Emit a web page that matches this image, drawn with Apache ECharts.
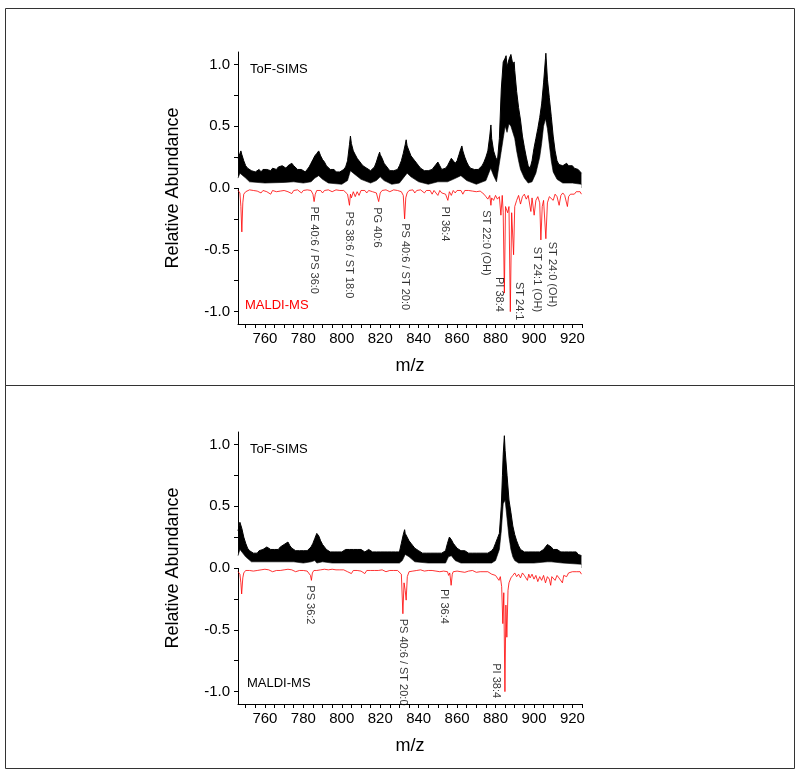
<!DOCTYPE html>
<html>
<head>
<meta charset="utf-8">
<script src="https://cdn.jsdelivr.net/npm/echarts@6/dist/echarts.min.js"></script>
<style>html,body{margin:0;padding:0;background:#fff}#c{width:800px;height:775px}</style>
</head>
<body>
<div id="c"></div>
<script>
// ---------- DATA ----------
const xTickValues = [750,755,760,765,770,775,780,785,790,795,800,805,810,815,820,825,830,835,840,845,850,855,860,865,870,875,880,885,890,895,900,905,910,915,920,925];
const xLabelValues = [760,780,800,820,840,860,880,900,920];
const yTickValues = [-1,-0.75,-0.5,-0.25,0,0.25,0.5,0.75,1];
const yLabelValues = [-1,-0.5,0,0.5,1];

// Panel 1 ToF-SIMS band: upper and lower envelope
const tofUpper1 = [[746,0.24],[747,0.28],[747.5,0.30],[748,0.27],[749,0.22],[750,0.18],[751,0.16],[752,0.15],[753,0.14],[754,0.15],[755,0.13],[756,0.14],[757,0.15],[758,0.13],[759,0.15],[760,0.14],[761,0.15],[762,0.16],[763,0.14],[764,0.16],[765,0.17],[766,0.15],[767,0.17],[768,0.16],[769,0.18],[770,0.17],[771,0.16],[772,0.18],[773,0.19],[774,0.20],[775,0.18],[776,0.17],[777,0.15],[778,0.14],[779,0.15],[780,0.14],[781,0.13],[782,0.15],[783,0.17],[784,0.20],[785,0.23],[786,0.26],[787,0.28],[788,0.30],[789,0.26],[790,0.23],[791,0.21],[792,0.18],[793,0.17],[794,0.15],[795,0.14],[796,0.15],[797,0.13],[798,0.14],[799,0.13],[800,0.14],[801,0.15],[802,0.17],[803,0.22],[804,0.35],[804.5,0.42],[805,0.36],[806,0.30],[807,0.27],[808,0.24],[809,0.22],[810,0.20],[811,0.18],[812,0.17],[813,0.16],[814,0.15],[815,0.14],[816,0.15],[817,0.17],[818,0.21],[819,0.26],[819.7,0.29],[820,0.27],[821,0.24],[822,0.20],[823,0.18],[824,0.16],[825,0.14],[826,0.13],[827,0.14],[828,0.13],[829,0.15],[830,0.18],[831,0.22],[832,0.28],[833,0.35],[833.5,0.39],[834,0.34],[835,0.30],[836,0.26],[837,0.24],[838,0.22],[839,0.20],[840,0.18],[841,0.16],[842,0.15],[843,0.14],[844,0.13],[845,0.14],[846,0.13],[847,0.15],[848,0.17],[849,0.19],[850,0.21],[851,0.18],[852,0.15],[853,0.14],[854,0.16],[855,0.18],[856,0.21],[857,0.24],[858,0.22],[859,0.20],[860,0.22],[861,0.27],[862,0.32],[862.5,0.34],[863,0.30],[864,0.25],[865,0.21],[866,0.18],[867,0.16],[868,0.15],[869,0.15],[870,0.14],[871,0.15],[872,0.16],[873,0.18],[874,0.21],[875,0.25],[876,0.30],[877,0.42],[877.6,0.51],[878,0.40],[879,0.30],[880,0.25],[881,0.22],[882,0.40],[883,0.80],[884,1.02],[885,1.05],[885.5,1.07],[886,0.98],[887,1.04],[888,1.08],[889,1.00],[889.7,1.02],[890,0.95],[891,0.78],[892,0.65],[893,0.55],[894,0.42],[895,0.33],[896,0.25],[897,0.18],[898,0.16],[899,0.22],[900,0.32],[901,0.40],[902,0.48],[903,0.57],[904,0.68],[905,0.85],[906,1.05],[906.2,1.09],[907,0.88],[908,0.73],[909,0.58],[910,0.42],[911,0.30],[912,0.22],[913,0.19],[914,0.20],[915,0.18],[916,0.19],[917,0.20],[918,0.18],[919,0.17],[920,0.18],[921,0.16],[922,0.17],[923,0.15],[924,0.14],[924.7,0.12]];
const tofLower1 = [[746,0.08],[747,0.12],[748,0.13],[750,0.08],[752,0.05],[760,0.04],[770,0.045],[775,0.05],[780,0.04],[784,0.05],[786,0.08],[788,0.10],[790,0.07],[793,0.04],[800,0.03],[803,0.06],[804.5,0.14],[806,0.12],[810,0.07],[815,0.04],[818,0.06],[820,0.09],[822,0.06],[826,0.03],[830,0.04],[833,0.10],[834,0.12],[836,0.09],[840,0.05],[845,0.03],[850,0.05],[855,0.05],[858,0.07],[862,0.10],[865,0.06],[870,0.03],[875,0.06],[877.5,0.16],[879,0.10],[880.5,0.05],[881.5,0.06],[883,0.30],[884,0.40],[885,0.50],[886,0.45],[887,0.52],[888,0.50],[889,0.50],[890,0.40],[891,0.30],[892,0.22],[893,0.15],[895,0.08],[897,0.04],[899,0.05],[901,0.12],[903,0.25],[904,0.36],[905,0.50],[906,0.56],[907,0.48],[908,0.35],[909,0.22],[910,0.13],[912,0.07],[915,0.04],[920,0.04],[924.7,0.03]];
// Panel 1 MALDI-MS (negative)
const maldi1 = [[746,-0.02],[747,-0.04],[747.5,-0.15],[748,-0.355],[748.5,-0.12],[749,-0.05],[750,-0.03],[751,-0.02],[752,-0.015],[753,-0.03],[754,-0.02],[755,-0.01],[756,-0.025],[757,-0.02],[758,-0.04],[759,-0.02],[760,-0.015],[761,-0.03],[762,-0.02],[763,-0.05],[764,-0.02],[765,-0.015],[766,-0.03],[767,-0.02],[768,-0.025],[769,-0.04],[770,-0.02],[771,-0.015],[772,-0.03],[773,-0.02],[774,-0.045],[775,-0.02],[776,-0.03],[777,-0.015],[778,-0.02],[779,-0.04],[780,-0.02],[781,-0.025],[782,-0.015],[783,-0.03],[784,-0.02],[785,-0.05],[785.6,-0.11],[786.2,-0.05],[787,-0.02],[788,-0.03],[789,-0.02],[790,-0.04],[791,-0.02],[792,-0.03],[793,-0.015],[794,-0.02],[795,-0.03],[796,-0.02],[797,-0.015],[798,-0.03],[799,-0.02],[800,-0.025],[801,-0.02],[802,-0.03],[803,-0.05],[804,-0.14],[804.5,-0.05],[805,-0.08],[806,-0.03],[807,-0.07],[808,-0.03],[809,-0.06],[810,-0.02],[811,-0.03],[812,-0.02],[813,-0.04],[814,-0.02],[815,-0.015],[816,-0.03],[817,-0.02],[818,-0.04],[819.2,-0.11],[820,-0.04],[821,-0.02],[822,-0.03],[823,-0.015],[824,-0.02],[825,-0.03],[826,-0.02],[827,-0.015],[828,-0.03],[829,-0.02],[830,-0.025],[831,-0.03],[832,-0.06],[832.7,-0.25],[833.3,-0.08],[834,-0.04],[835,-0.02],[836,-0.03],[837,-0.015],[838,-0.04],[839,-0.02],[840,-0.03],[841,-0.015],[842,-0.025],[843,-0.04],[844,-0.02],[845,-0.03],[846,-0.02],[847,-0.05],[848,-0.02],[849,-0.03],[850,-0.06],[851,-0.02],[852,-0.04],[853,-0.03],[854,-0.05],[855.2,-0.10],[856,-0.03],[857,-0.06],[858,-0.02],[859,-0.04],[860,-0.02],[861,-0.03],[862,-0.02],[863,-0.05],[864,-0.02],[865,-0.03],[866,-0.02],[867,-0.015],[868,-0.025],[869,-0.02],[870,-0.03],[871,-0.02],[872,-0.025],[873,-0.04],[874,-0.05],[875,-0.07],[876,-0.09],[877,-0.06],[877.6,-0.14],[878,-0.08],[879,-0.10],[880,-0.06],[881,-0.09],[882,-0.07],[882.8,-0.22],[883.5,-0.06],[884,-0.20],[884.6,-0.85],[885.2,-0.15],[886.3,-0.20],[887,-0.15],[887.7,-1.0],[888.4,-0.20],[889.4,-0.54],[890,-0.15],[891,-0.10],[892,-0.06],[893,-0.13],[894,-0.07],[895,-0.05],[896,-0.09],[897,-0.06],[898.4,-0.19],[899,-0.08],[900.1,-0.22],[901,-0.10],[902,-0.07],[903,-0.12],[903.6,-0.42],[904.3,-0.15],[905,-0.10],[906.2,-0.41],[907,-0.12],[908,-0.07],[909,-0.06],[910,-0.10],[911,-0.05],[912,-0.07],[913.1,-0.14],[914,-0.06],[915,-0.04],[916,-0.06],[917.4,-0.15],[918,-0.07],[919,-0.05],[920,-0.04],[921,-0.05],[922,-0.03],[923,-0.04],[924,-0.03],[924.7,-0.05]];
const labels1 = [[785.4,-0.15,'PE 40:6 / PS 36:0'],[803.6,-0.19,'PS 38:6 / ST 18:0'],[818.5,-0.155,'PG 40:6'],[833.0,-0.285,'PS 40:6 / ST 20:0'],[853.8,-0.15,'PI 36:4'],[875.0,-0.18,'ST 22:0 (OH)'],[882.0,-0.72,'PI 38:4'],[892.3,-0.76,'ST 24:1'],[901.8,-0.475,'ST 24:1 (OH)'],[909.6,-0.435,'ST 24:0 (OH)']];

// Panel 2
const tofUpper2 = [[746,0.30],[747,0.37],[748,0.32],[749,0.25],[750,0.20],[751,0.16],[752,0.14],[753,0.13],[754,0.12],[755,0.13],[756,0.12],[757,0.14],[758,0.13],[759,0.15],[760,0.16],[761,0.17],[762,0.16],[763,0.15],[764,0.14],[765,0.15],[766,0.16],[767,0.15],[768,0.17],[769,0.18],[770,0.19],[771,0.20],[772,0.21],[773,0.18],[774,0.16],[775,0.15],[776,0.14],[777,0.15],[778,0.14],[779,0.13],[780,0.14],[781,0.13],[782,0.14],[783,0.15],[784,0.17],[785,0.20],[786,0.24],[787,0.28],[787.5,0.29],[788,0.26],[789,0.22],[790,0.19],[791,0.17],[792,0.15],[793,0.14],[794,0.13],[795,0.14],[796,0.13],[797,0.12],[798,0.13],[799,0.12],[800,0.13],[801,0.14],[802,0.15],[803,0.14],[804,0.15],[805,0.14],[806,0.15],[807,0.16],[808,0.15],[809,0.14],[810,0.15],[811,0.14],[812,0.13],[813,0.14],[814,0.15],[815,0.14],[816,0.13],[817,0.14],[818,0.13],[819,0.12],[820,0.13],[821,0.14],[822,0.13],[823,0.12],[824,0.13],[825,0.12],[826,0.13],[827,0.12],[828,0.13],[829,0.12],[830,0.13],[831,0.20],[832,0.27],[832.7,0.31],[833,0.28],[834,0.25],[835,0.22],[836,0.20],[837,0.18],[838,0.16],[839,0.15],[840,0.14],[841,0.13],[842,0.12],[843,0.13],[844,0.12],[845,0.13],[846,0.12],[847,0.13],[848,0.12],[849,0.13],[850,0.12],[851,0.13],[852,0.12],[853,0.13],[854,0.14],[855,0.20],[856,0.25],[857,0.23],[858,0.20],[859,0.18],[860,0.16],[861,0.15],[862,0.14],[863,0.13],[864,0.14],[865,0.13],[866,0.12],[867,0.13],[868,0.12],[869,0.13],[870,0.12],[871,0.13],[872,0.12],[873,0.13],[874,0.12],[875,0.13],[876,0.12],[877,0.13],[878,0.14],[879,0.16],[880,0.20],[881,0.24],[882,0.28],[883,0.50],[883.6,0.75],[884,0.92],[884.6,1.07],[885,0.95],[886,0.75],[887,0.55],[888,0.45],[889,0.34],[890,0.27],[891,0.22],[892,0.18],[893,0.15],[894,0.14],[895,0.13],[896,0.14],[897,0.13],[898,0.12],[899,0.13],[900,0.14],[901,0.13],[902,0.12],[903,0.13],[904,0.14],[905,0.15],[906,0.17],[907,0.19],[908,0.20],[909,0.17],[910,0.15],[911,0.14],[912,0.15],[913,0.14],[914,0.13],[915,0.14],[916,0.13],[917,0.12],[918,0.13],[919,0.12],[920,0.13],[921,0.12],[922,0.13],[923,0.11],[924,0.12],[924.7,0.10]];
const tofLower2 = [[746,0.10],[747,0.15],[748,0.14],[750,0.09],[753,0.05],[760,0.05],[770,0.05],[775,0.05],[780,0.04],[784,0.05],[786,0.06],[787,0.04],[788,0.05],[790,0.05],[795,0.04],[800,0.04],[810,0.04],[820,0.04],[830,0.04],[831.5,0.06],[833,0.11],[835,0.09],[838,0.05],[845,0.04],[854,0.04],[855.5,0.09],[857,0.10],[859,0.06],[862,0.04],[870,0.04],[878,0.04],[880,0.06],[882,0.15],[883,0.30],[884,0.52],[885,0.55],[886,0.40],[887,0.25],[888,0.15],[889,0.09],[890,0.06],[892,0.04],[900,0.04],[907,0.05],[909,0.05],[915,0.04],[924.7,0.03]];
const maldi2 = [[746,-0.03],[747,-0.05],[747.5,-0.12],[747.9,-0.21],[748.5,-0.08],[749,-0.04],[750,-0.02],[751,-0.015],[752,-0.02],[753,-0.01],[754,-0.025],[755,-0.015],[756,-0.02],[757,-0.03],[758,-0.015],[759,-0.02],[760,-0.01],[761,-0.025],[762,-0.015],[763,-0.02],[764,-0.03],[765,-0.015],[766,-0.02],[767,-0.01],[768,-0.02],[769,-0.035],[770,-0.015],[771,-0.02],[772,-0.01],[773,-0.025],[774,-0.015],[775,-0.02],[776,-0.03],[777,-0.015],[778,-0.02],[779,-0.01],[780,-0.02],[781,-0.015],[782,-0.025],[783,-0.03],[783.7,-0.06],[784.2,-0.10],[784.7,-0.04],[785.5,-0.02],[786,-0.015],[787,-0.02],[788,-0.01],[789,-0.015],[790,-0.02],[791,-0.01],[792,-0.02],[793,-0.015],[794,-0.02],[795,-0.01],[796,-0.02],[797,-0.015],[798,-0.025],[799,-0.015],[800,-0.02],[801,-0.015],[802,-0.02],[803,-0.03],[804,-0.02],[805,-0.045],[806,-0.02],[807,-0.03],[808,-0.02],[809,-0.015],[810,-0.025],[811,-0.02],[812,-0.045],[813,-0.02],[814,-0.015],[815,-0.02],[816,-0.03],[817,-0.02],[818,-0.015],[819,-0.02],[820,-0.025],[821,-0.015],[822,-0.02],[823,-0.03],[824,-0.015],[825,-0.02],[826,-0.015],[827,-0.02],[828,-0.025],[829,-0.02],[830,-0.03],[831,-0.05],[831.8,-0.37],[832.4,-0.12],[833,-0.18],[833.5,-0.26],[834.1,-0.07],[835,-0.03],[836,-0.02],[837,-0.025],[838,-0.015],[839,-0.02],[840,-0.03],[841,-0.015],[842,-0.02],[843,-0.025],[844,-0.015],[845,-0.02],[846,-0.03],[847,-0.02],[848,-0.015],[849,-0.025],[850,-0.02],[851,-0.03],[852,-0.02],[853,-0.025],[854,-0.02],[855,-0.03],[855.6,-0.06],[856.2,-0.04],[856.9,-0.14],[857.5,-0.05],[858,-0.03],[859,-0.02],[860,-0.025],[861,-0.02],[862,-0.03],[863,-0.02],[864,-0.035],[865,-0.02],[866,-0.025],[867,-0.03],[868,-0.02],[869,-0.025],[870,-0.035],[871,-0.02],[872,-0.03],[873,-0.025],[874,-0.03],[875,-0.04],[876,-0.03],[877,-0.035],[878,-0.05],[879,-0.04],[880,-0.06],[881,-0.05],[881.8,-0.10],[882.5,-0.07],[883.2,-0.15],[883.8,-0.45],[884.3,-0.20],[884.9,-1.0],[885.4,-0.30],[885.9,-0.56],[886.5,-0.18],[887,-0.12],[888,-0.08],[889,-0.06],[890,-0.04],[891,-0.07],[892,-0.05],[893,-0.08],[894,-0.04],[895,-0.06],[896.6,-0.10],[897.3,-0.05],[898,-0.08],[899,-0.05],[900,-0.09],[901,-0.06],[902,-0.11],[903,-0.07],[904,-0.10],[905,-0.06],[906,-0.12],[907,-0.07],[908,-0.09],[908.7,-0.14],[909.3,-0.07],[910,-0.06],[911,-0.10],[912,-0.06],[913,-0.08],[914,-0.07],[914.8,-0.12],[915.5,-0.06],[916,-0.05],[917,-0.07],[918,-0.04],[919,-0.05],[920,-0.03],[921,-0.04],[922,-0.03],[923,-0.025],[924,-0.03],[924.7,-0.05]];
const labels2 = [[783.4,-0.14,'PS 36:2'],[831.8,-0.41,'PS 40:6 / ST 20:0'],[853.4,-0.17,'PI 36:4'],[880.2,-0.77,'PI 38:4']];

// ---------- CHART ----------
const FONT = "'Liberation Sans', Arial, Helvetica, sans-serif";
const chart = echarts.init(document.getElementById('c'), null, {renderer: 'canvas'});

function xAxisCfg(gi) {
  return {
    type: 'value', gridIndex: gi, min: 746, max: 925,
    name: 'm/z', nameLocation: 'middle', nameGap: 33,
    nameTextStyle: {fontFamily: FONT, fontSize: 18, color: '#000'},
    axisLine: {show: true, onZero: false, lineStyle: {color: '#000', width: 1}},
    axisTick: {show: true, length: 4, customValues: xTickValues, lineStyle: {color: '#000'}},
    axisLabel: {customValues: xLabelValues, fontFamily: FONT, fontSize: 15, color: '#000', margin: 7},
    splitLine: {show: false}
  };
}
function yAxisCfg(gi) {
  return {
    type: 'value', gridIndex: gi, min: -1.1, max: 1.1,
    name: 'Relative Abundance', nameLocation: 'middle', nameGap: 56, nameRotate: 90,
    nameTextStyle: {fontFamily: FONT, fontSize: 18, color: '#000'},
    axisLine: {show: true, onZero: false, lineStyle: {color: '#000', width: 1}},
    axisTick: {show: true, length: 4, customValues: yTickValues, lineStyle: {color: '#000'}},
    axisLabel: {customValues: yLabelValues, fontFamily: FONT, fontSize: 15, color: '#000', margin: 8,
      formatter: v => v.toFixed(1)},
    splitLine: {show: false}
  };
}
function panelSeries(gi, up, low, maldi, labels) {
  return [
    {type: 'line', xAxisIndex: gi, yAxisIndex: gi, data: up, symbol: 'none', z: 2,
     lineStyle: {color: '#000', width: 1}, areaStyle: {color: '#000', opacity: 1, origin: 0}},
    {type: 'line', xAxisIndex: gi, yAxisIndex: gi, data: low, symbol: 'none', z: 3,
     lineStyle: {color: '#000', width: 0.6}, areaStyle: {color: '#fff', opacity: 1, origin: 0}},
    {type: 'line', xAxisIndex: gi, yAxisIndex: gi, data: maldi, symbol: 'none', z: 4,
     lineStyle: {color: '#ff0000', width: 0.8}},
    {type: 'scatter', xAxisIndex: gi, yAxisIndex: gi, data: labels, symbolSize: 1, z: 5,
     itemStyle: {color: 'rgba(0,0,0,0)'},
     label: {show: true, position: 'inside', rotate: -90, align: 'left', verticalAlign: 'middle',
       fontFamily: FONT, fontSize: 11, color: '#000', formatter: p => p.value[2]}}
  ];
}

chart.setOption({
  animation: false,
  backgroundColor: '#fff',
  grid: [
    {left: 238, right: 218, top: 52, height: 272},
    {left: 238, right: 218, top: 432, height: 272}
  ],
  xAxis: [xAxisCfg(0), xAxisCfg(1)],
  yAxis: [yAxisCfg(0), yAxisCfg(1)],
  graphic: [
    {type: 'rect', shape: {x: 5.5, y: 8.5, width: 789, height: 377}, style: {fill: 'none', stroke: '#333', lineWidth: 1}, silent: true},
    {type: 'rect', shape: {x: 5.5, y: 385.5, width: 789, height: 383}, style: {fill: 'none', stroke: '#333', lineWidth: 1}, silent: true},
    {type: 'text', left: 250, top: 63, style: {text: 'ToF-SIMS', fontFamily: FONT, fontSize: 13, fill: '#000'}},
    {type: 'text', left: 245, top: 299, style: {text: 'MALDI-MS', fontFamily: FONT, fontSize: 13, fill: '#ff0000'}},
    {type: 'text', left: 250, top: 443, style: {text: 'ToF-SIMS', fontFamily: FONT, fontSize: 13, fill: '#000'}},
    {type: 'text', left: 247, top: 677, style: {text: 'MALDI-MS', fontFamily: FONT, fontSize: 13, fill: '#000'}}
  ],
  series: [].concat(
    panelSeries(0, tofUpper1, tofLower1, maldi1, labels1),
    panelSeries(1, tofUpper2, tofLower2, maldi2, labels2)
  )
});
</script>
</body>
</html>
